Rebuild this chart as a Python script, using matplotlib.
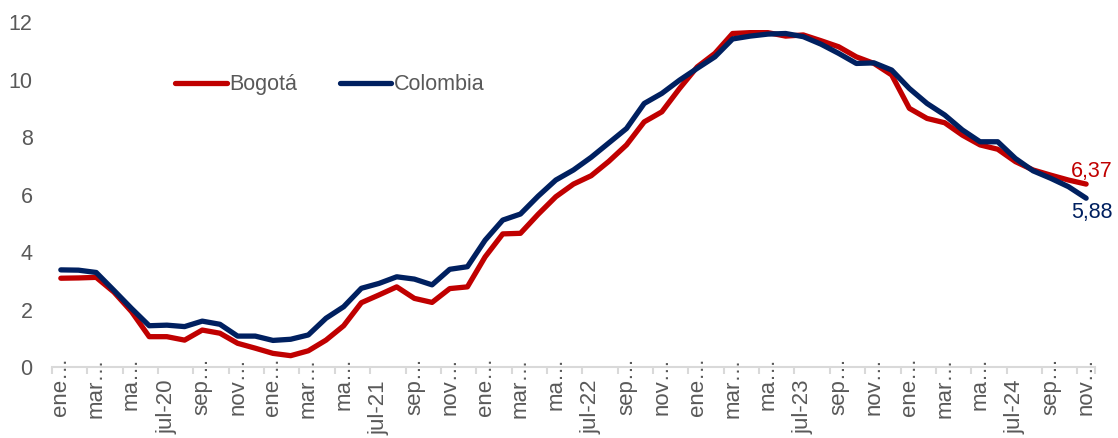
import matplotlib
matplotlib.use('Agg')
import matplotlib.pyplot as plt

plt.rcParams['font.family'] = ['Liberation Sans', 'DejaVu Sans']

# Datos mensuales ene-20 a nov-24
bogota = [3.10, 3.11, 3.13, 2.62, 1.94, 1.07, 1.07, 0.95, 1.30, 1.19,
          0.84, 0.67, 0.49, 0.41, 0.58, 0.95, 1.45, 2.25, 2.52, 2.80,
          2.40, 2.26, 2.74, 2.80, 3.84, 4.64, 4.66, 5.32, 5.93, 6.37,
          6.66, 7.16, 7.73, 8.53, 8.88, 9.69, 10.44, 10.91, 11.60, 11.63,
          11.63, 11.51, 11.55, 11.35, 11.14, 10.79, 10.56, 10.16, 9.00, 8.65,
          8.50, 8.07, 7.73, 7.58, 7.15, 6.86, 6.68, 6.51, 6.37]
colombia = [3.39, 3.38, 3.30, 2.68, 2.05, 1.45, 1.47, 1.42, 1.61, 1.50,
            1.09, 1.09, 0.94, 0.98, 1.13, 1.71, 2.11, 2.75, 2.92, 3.15,
            3.07, 2.87, 3.41, 3.50, 4.42, 5.12, 5.33, 5.95, 6.51, 6.86,
            7.30, 7.80, 8.30, 9.17, 9.52, 9.98, 10.39, 10.79, 11.41, 11.51,
            11.58, 11.60, 11.49, 11.23, 10.91, 10.56, 10.58, 10.33, 9.69, 9.17,
            8.77, 8.25, 7.84, 7.84, 7.26, 6.83, 6.57, 6.28, 5.88]

# Etiquetas del eje (una cada dos meses, como en el original)
etiquetas = ['ene…', 'mar…', 'ma…', 'jul-20', 'sep…', 'nov…',
             'ene…', 'mar…', 'ma…', 'jul-21', 'sep…', 'nov…',
             'ene…', 'mar…', 'ma…', 'jul-22', 'sep…', 'nov…',
             'ene…', 'mar…', 'ma…', 'jul-23', 'sep…', 'nov…',
             'ene…', 'mar…', 'ma…', 'jul-24', 'sep…', 'nov…']

rojo = '#C00000'
azul = '#002060'
gris = '#595959'
linea_eje = '#D9D9D9'

n = len(bogota)
x = list(range(n))

fig = plt.figure(figsize=(11.18, 4.38), dpi=100)
ax = fig.add_axes([0.0465, 0.161, 0.9329, 0.7888])

ax.plot(x, bogota, color=rojo, lw=3.8, label='Bogotá',
        solid_capstyle='round', solid_joinstyle='round')
ax.plot(x, colombia, color=azul, lw=3.8, label='Colombia',
        solid_capstyle='round', solid_joinstyle='round')

ax.set_xlim(-0.5, n - 0.5)
ax.set_ylim(0, 12)

# Eje Y
ax.set_yticks([0, 2, 4, 6, 8, 10, 12])
ax.tick_params(axis='y', length=0, pad=14, labelsize=15.5, labelcolor=gris)

# Eje X: etiquetas en el centro, marcas entre categorías
ax.set_xticks(x[::2])
ax.set_xticklabels(etiquetas, rotation=90)
ax.set_xticks([v - 0.5 for v in x[::2]] + [n - 0.5], minor=True)
ax.tick_params(axis='x', which='major', length=0, labelsize=16, labelcolor=gris)
ax.tick_params(axis='x', which='minor', length=5, width=1.5, color=linea_eje)
for tick, lab in zip(ax.xaxis.get_major_ticks(), etiquetas):
    if lab.startswith('jul'):
        tick.set_pad(9)
    else:
        tick.set_pad(-7.5)

for s in ['top', 'right', 'left']:
    ax.spines[s].set_visible(False)
ax.spines['bottom'].set_color(linea_eje)
ax.spines['bottom'].set_linewidth(1.5)

# Etiquetas del último dato
ax.annotate('6,37', (n - 1, bogota[-1]), xytext=(4, 9), textcoords='offset points',
            ha='center', va='center', color=rojo, fontsize=15.5)
ax.annotate('5,88', (n - 1, colombia[-1]), xytext=(4, -10), textcoords='offset points',
            ha='center', va='center', color=azul, fontsize=15.5)

leg = ax.legend(loc='center left', bbox_to_anchor=(0.118, 0.818), ncol=2,
                frameon=False, fontsize=15.5, handlelength=2.4,
                handletextpad=0.1, columnspacing=2.0, borderpad=0, borderaxespad=0)
for t in leg.get_texts():
    t.set_color(gris)

plt.savefig('out.png', dpi=100)
